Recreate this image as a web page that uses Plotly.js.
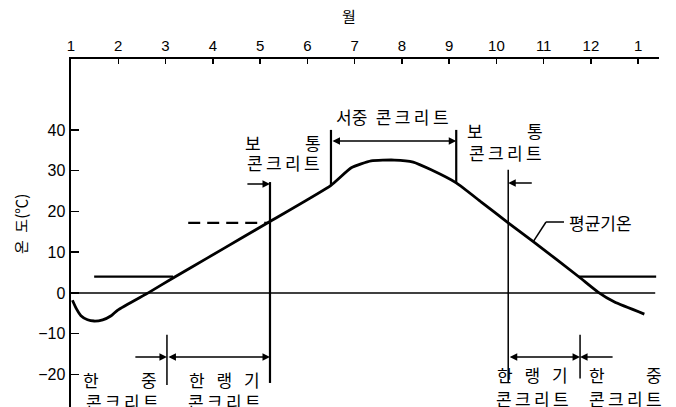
<!DOCTYPE html>
<html><head><meta charset="utf-8">
<script src="https://cdn.plot.ly/plotly-3.0.1.min.js"></script>
<style>html,body{margin:0;padding:0;background:#fff}#chart{width:676px;height:407px}</style>
</head><body><div id="chart"></div>
<script>
// ---- data ----
const monthTickVals = [1,2,3,4,5,6,7,8,9,10,11,12,13];
const monthTickText = ['1','2','3','4','5','6','7','8','9','10','11','12','1'];
const tempTickVals = [-20,-10,0,10,20,30,40];
const curveMonth = [1.03,1.11,1.21,1.35,1.49,1.67,1.85,1.99,2.66,3.15,3.89,4.60,5.19,6.50,6.93,7.35,7.84,8.24,8.62,9.15,9.68,10.25,10.78,11.75,12.15,12.49,13.13];
const curveTemp  = [-1.8,-3.8,-5.6,-6.6,-6.9,-6.6,-5.6,-4.2,0.2,3.6,8.6,13.4,17.4,26.4,30.7,32.4,32.6,32.1,30.2,27.0,22.3,17.2,12.6,3.9,0.2,-2.2,-5.2];
const coldLimitTemp = 4;      // 한중 기준 온도
const warmLimitTemp = 17.2;   // 보통 기준 온도 (점선)
const periodBounds = [3.03, 5.21, 6.50, 9.15, 10.25, 11.77]; // 한중끝, 보통시작, 서중시작, 서중끝, 보통끝, 한중시작
const curveName = '평균기온';
const kr = 'Noto Sans CJK KR, sans-serif';
const th = '\u2009';
const wide = '\u2002\u2009';
const concrete = ['콘','크','리','트'].join(th);
const hanraeng = ['한','랭','기'].join(wide);

// ---- helpers ----
function seg(list){ const x=[],y=[]; list.forEach(s=>{x.push(s[0],s[2],null);y.push(s[1],s[3],null);}); return {x,y}; }
const [bHanEnd,bBoStart,bSeoStart,bSeoEnd,bBoEnd,bHanStart] = periodBounds;

const thin = seg([
  [1, 0, 13.36, 0],
  [bBoEnd, 30.2, bBoEnd, -22.1],
  [bHanEnd, -10.3, bHanEnd, -22.6],
  [bHanStart, -10.3, bHanStart, -21.0],
  [10.78, 12.6, 11.05, 17.4], [11.05, 17.4, 11.43, 17.4]
]);
const thick = seg([
  [1.49, coldLimitTemp, 3.16, coldLimitTemp],
  [11.75, coldLimitTemp, 13.38, coldLimitTemp],
  [bBoStart, 27.2, bBoStart, -22.1],
  [bSeoStart, 40, bSeoStart, 26.4],
  [bSeoEnd, 40, bSeoEnd, 27.0]
]);

const traces = [
  {x: thin.x, y: thin.y, mode:'lines', line:{color:'#000', width:1.5}, hoverinfo:'skip'},
  {x: thick.x, y: thick.y, mode:'lines', line:{color:'#000', width:2.2}, hoverinfo:'skip'},
  {x:[3.48, bBoStart], y:[warmLimitTemp, warmLimitTemp], mode:'lines', line:{color:'#000', width:2.2, dash:'12px,7px'}, hoverinfo:'skip'},
  {x: curveMonth, y: curveTemp, name: curveName, mode:'lines', line:{color:'#000', width:2.8, shape:'spline', smoothing:0.5}}
];

function arrow(x, y, ax, ay, both){
  return {x, y, ax, ay, xref:'x', yref:'y', axref:'x', ayref:'y', text:'', showarrow:true,
    arrowhead:2, startarrowhead:2, arrowside: both ? 'end+start' : 'end',
    arrowwidth:1.5, arrowsize:1, arrowcolor:'#000', standoff:0, startstandoff:0};
}
function label(text, x, y, anchor){
  return {x, y, xref:'x', yref:'y', text, showarrow:false, xanchor: anchor||'center', yanchor:'middle',
    font:{family:kr, size:17, color:'#000'}};
}

const annotations = [
  arrow(bBoStart, 26.7, 4.70, 26.7, false),
  arrow(bBoEnd, 27.0, 10.78, 27.0, false),
  arrow(bSeoEnd, 37.3, bSeoStart, 37.3, true),
  arrow(bHanEnd, -15.7, 2.33, -15.7, false),
  arrow(bBoStart, -15.7, bHanEnd, -15.7, true),
  arrow(bHanStart, -15.7, bBoEnd, -15.7, true),
  arrow(bHanStart, -15.7, 12.49, -15.7, false),

  label('보', 4.84, 36.8), label('통', 6.11, 36.8), label(concrete, 5.50, 31.9),
  label('서중' + '\u2002' + concrete, 7.81, 43.2),
  label('보', 9.54, 39.8), label('통', 10.82, 39.8), label(concrete, 10.19, 34.4),
  label(curveName, 11.50, 17.4, 'left'),
  label('한', 1.42, -21.3), label('중', 2.64, -21.3), label(concrete, 2.09, -26.6),
  label(hanraeng, 4.25, -21.3), label(concrete, 4.25, -26.6),
  label(hanraeng, 10.76, -20.1), label(concrete, 10.76, -25.8),
  label('한', 12.12, -20.1), label('중', 13.34, -20.1), label(concrete, 12.74, -25.8),

  {x:-0.085, y:0.526, xref:'paper', yref:'paper', xanchor:'center', yanchor:'middle', text:'온\u2002도(℃)', textangle:-90, showarrow:false,
   font:{family:kr, size:15, color:'#000'}},
  {x:0.473, y:1.126, xref:'paper', yref:'paper', xanchor:'center', yanchor:'middle', text:'월', showarrow:false,
   font:{family:kr, size:15, color:'#000'}}
];

const layout = {
  width:676, height:407,
  margin:{l:71, r:17, t:59, b:0, pad:0},
  paper_bgcolor:'#fff', plot_bgcolor:'#fff',
  showlegend:false,
  xaxis:{side:'top', range:[1, 13.44], tickvals:monthTickVals, ticktext:monthTickText,
    showline:true, linecolor:'#000', linewidth:2, ticks:'inside', ticklen:5, tickwidth:1.5, tickcolor:'#000',
    showgrid:false, zeroline:false, fixedrange:true,
    tickfont:{family:'Liberation Sans, Arial, sans-serif', size:15, color:'#000'}},
  yaxis:{range:[-28, 57.4], tickvals:tempTickVals,
    showline:true, linecolor:'#000', linewidth:2.5, ticks:'inside', ticklen:8, tickwidth:1.5, tickcolor:'#000',
    showgrid:false, zeroline:false, fixedrange:true,
    tickfont:{family:'Liberation Sans, Arial, sans-serif', size:16, color:'#000'}},
  annotations
};
Plotly.newPlot('chart', traces, layout, {displayModeBar:false, staticPlot:true});
</script></body></html>
